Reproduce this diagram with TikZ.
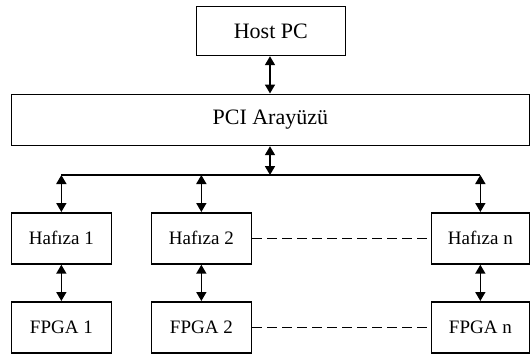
\documentclass[tikz,border=0pt]{standalone}
\usepackage{fontspec}
\setmainfont{Liberation Serif}
\usetikzlibrary{arrows.meta}
\begin{document}
\begin{tikzpicture}[x=1pt,y=-1pt,
  blk/.style={draw, line width=1.7pt, inner sep=0pt, anchor=north west},
  small/.style={font=\fontsize{19}{22}\selectfont},
  big/.style={font=\fontsize{22}{26}\selectfont},
  link/.style={line width=1.7pt, {Triangle[length=9pt,width=10pt]}-{Triangle[length=9pt,width=10pt]}},
  bus/.style={line width=1.7pt},
  dash line/.style={line width=1.5pt, dash pattern=on 10pt off 5pt}]
\useasboundingbox (0,0) rectangle (531,354);
% boxes
\node[blk, big, minimum width=149pt, minimum height=49pt] (host) at (195.5,5.5) {Host PC};
\node[blk, big, minimum width=518pt, minimum height=51pt] (pci) at (10.5,93.5) {PCI Arayüzü};
\node[blk, small, minimum width=100pt, minimum height=51pt] (m1) at (10.5,212) {Hafıza 1};
\node[blk, small, minimum width=100pt, minimum height=51pt] (m2) at (150.5,212) {Hafıza 2};
\node[blk, small, minimum width=98pt, minimum height=51pt] (mn) at (430.5,212) {Hafıza n};
\node[blk, small, minimum width=100pt, minimum height=51pt] (f1) at (10.5,301) {FPGA 1};
\node[blk, small, minimum width=100pt, minimum height=51pt] (f2) at (150.5,301) {FPGA 2};
\node[blk, small, minimum width=98pt, minimum height=51pt] (fn) at (430.5,301) {FPGA n};
% shared bus
\coordinate (bus) at (270,175);
\coordinate (b1) at (m1.north |- bus);
\coordinate (b2) at (m2.north |- bus);
\coordinate (bn) at (mn.north |- bus);
\draw[bus] (b1) -- (bn);
% connectors
\draw[link] (host.south -| bus) -- (pci.north -| bus);
\draw[link] (pci.south -| bus) -- (bus);
\draw[link] (b1) -- (m1.north);
\draw[link] (b2) -- (m2.north);
\draw[link] (bn) -- (mn.north);
\draw[link] (m1.south) -- (f1.north);
\draw[link] (m2.south) -- (f2.north);
\draw[link] (mn.south) -- (fn.north);
\draw[dash line] (m2.east) -- (mn.west);
\draw[dash line] (f2.east) -- (fn.west);
\end{tikzpicture}
\end{document}
